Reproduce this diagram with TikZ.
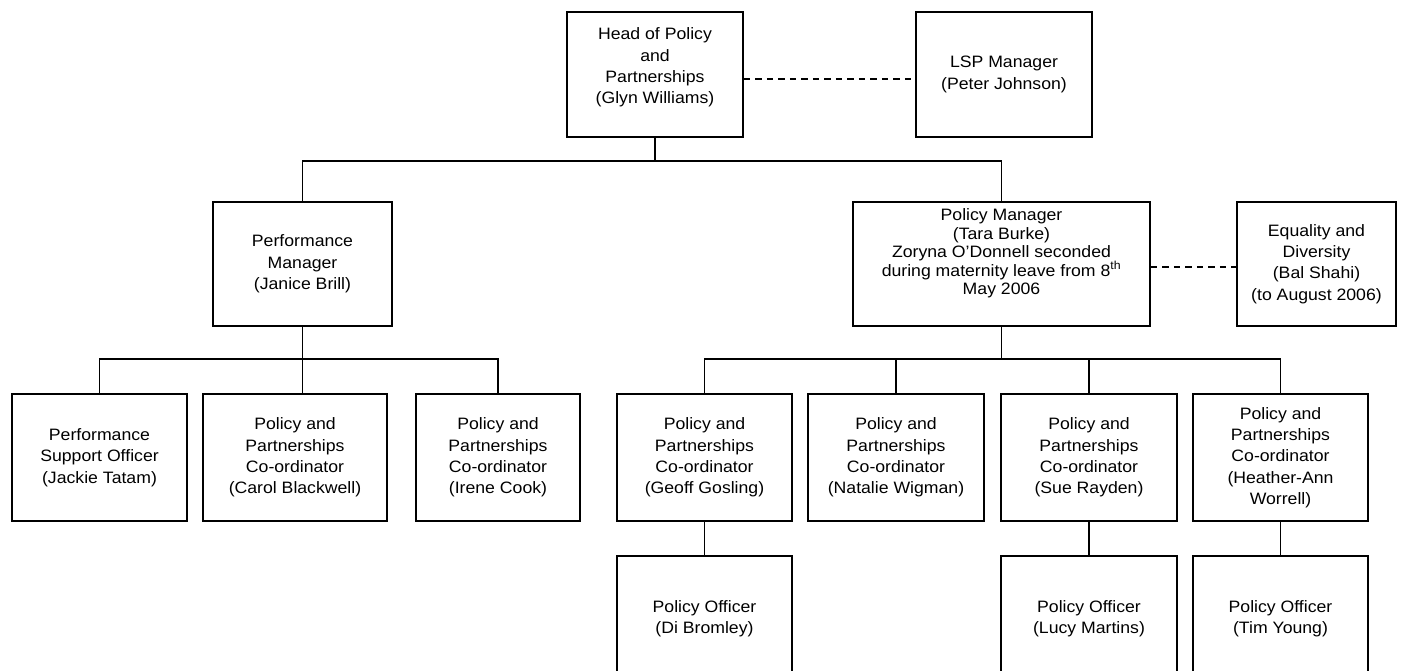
\documentclass[tikz,border=0pt]{standalone}
\usepackage{fontspec}
\setmainfont{Liberation Sans}[FakeStretch=1.07]
\begin{document}
\begin{tikzpicture}[x=1pt,y=-1pt,
  post/.style={draw=black, line width=1.6pt, align=center, inner sep=0pt,
    font=\fontsize{16.5}{21.3}\selectfont},
  link/.style={draw=black, line width=1.3pt},
  dotlink/.style={draw=black, line width=1.3pt, dash pattern=on 6.5pt off 5pt}]
\clip (0,0) rectangle (1401,670);

% top level
\node[post, minimum width=176, minimum height=125] (head) at (655,74.5)
  {Head of Policy\\and\\Partnerships\\(Glyn Williams)\\[-4pt]\mbox{}};
\node[post, minimum width=176, minimum height=125] (lsp) at (1004,74.5)
  {LSP Manager\\(Peter Johnson)};

% managers
\node[post, minimum width=179, minimum height=124] (perf) at (302.5,264)
  {Performance\\Manager\\(Janice Brill)};
\node[post, minimum width=297, minimum height=124,
      font=\fontsize{16.5}{18.4}\selectfont] (pm) at (1001.5,264)
  {Policy Manager\\(Tara Burke)\\Zoryna O'Donnell seconded\\during maternity leave from 8\textsuperscript{th}\\May 2006\\[6pt]\mbox{}};
\node[post, minimum width=159, minimum height=124] (eq) at (1316.5,264)
  {Equality and\\Diversity\\(Bal Shahi)\\(to August 2006)};

% co-ordinators
\node[post, minimum width=175, minimum height=127] (jackie) at (99.5,457.5)
  {Performance\\Support Officer\\(Jackie Tatam)};
\node[post, minimum width=184, minimum height=127] (carol) at (295,457.5)
  {Policy and\\Partnerships\\Co-ordinator\\(Carol Blackwell)};
\node[post, minimum width=164, minimum height=127] (irene) at (498,457.5)
  {Policy and\\Partnerships\\Co-ordinator\\(Irene Cook)};
\node[post, minimum width=175, minimum height=127] (geoff) at (704.5,457.5)
  {Policy and\\Partnerships\\Co-ordinator\\(Geoff Gosling)};
\node[post, minimum width=176, minimum height=127] (natalie) at (896,457.5)
  {Policy and\\Partnerships\\Co-ordinator\\(Natalie Wigman)};
\node[post, minimum width=176, minimum height=127] (sue) at (1089,457.5)
  {Policy and\\Partnerships\\Co-ordinator\\(Sue Rayden)};
\node[post, minimum width=175, minimum height=127] (heather) at (1280.5,457.5)
  {Policy and\\Partnerships\\Co-ordinator\\(Heather-Ann\\Worrell)};

% policy officers
\node[post, minimum width=175, minimum height=125] (di) at (704.5,618.5)
  {Policy Officer\\(Di Bromley)};
\node[post, minimum width=176, minimum height=125] (lucy) at (1089,618.5)
  {Policy Officer\\(Lucy Martins)};
\node[post, minimum width=175, minimum height=125] (tim) at (1280.5,618.5)
  {Policy Officer\\(Tim Young)};

% bus junctions
\coordinate (hbus) at (655,161);
\coordinate (pbus) at (302.5,359);
\coordinate (rbus) at (1001.5,359);

% reporting lines
\draw[link] (head.south) -- (hbus);
\draw[link] (perf.north) |- (hbus) -| (pm.north);

\draw[link] (perf.south) -- (perf.south |- carol.north);
\draw[link] (jackie.north) |- (pbus) -| (irene.north);

\draw[link] (pm.south) -- (rbus);
\draw[link] (geoff.north) |- (rbus) -| (heather.north);
\draw[link] (natalie.north) -- (natalie.north |- rbus);
\draw[link] (sue.north) -- (sue.north |- rbus);

\draw[link] (geoff.south) -- (di.north);
\draw[link] (sue.south) -- (lucy.north);
\draw[link] (heather.south) -- (tim.north);

% liaison lines
\draw[dotlink] ([yshift=-4.5pt]head.east) -- ([yshift=-4.5pt]lsp.west);
\draw[dotlink] ([yshift=-3pt]pm.east) -- ([yshift=-3pt]eq.west);
\end{tikzpicture}
\end{document}
